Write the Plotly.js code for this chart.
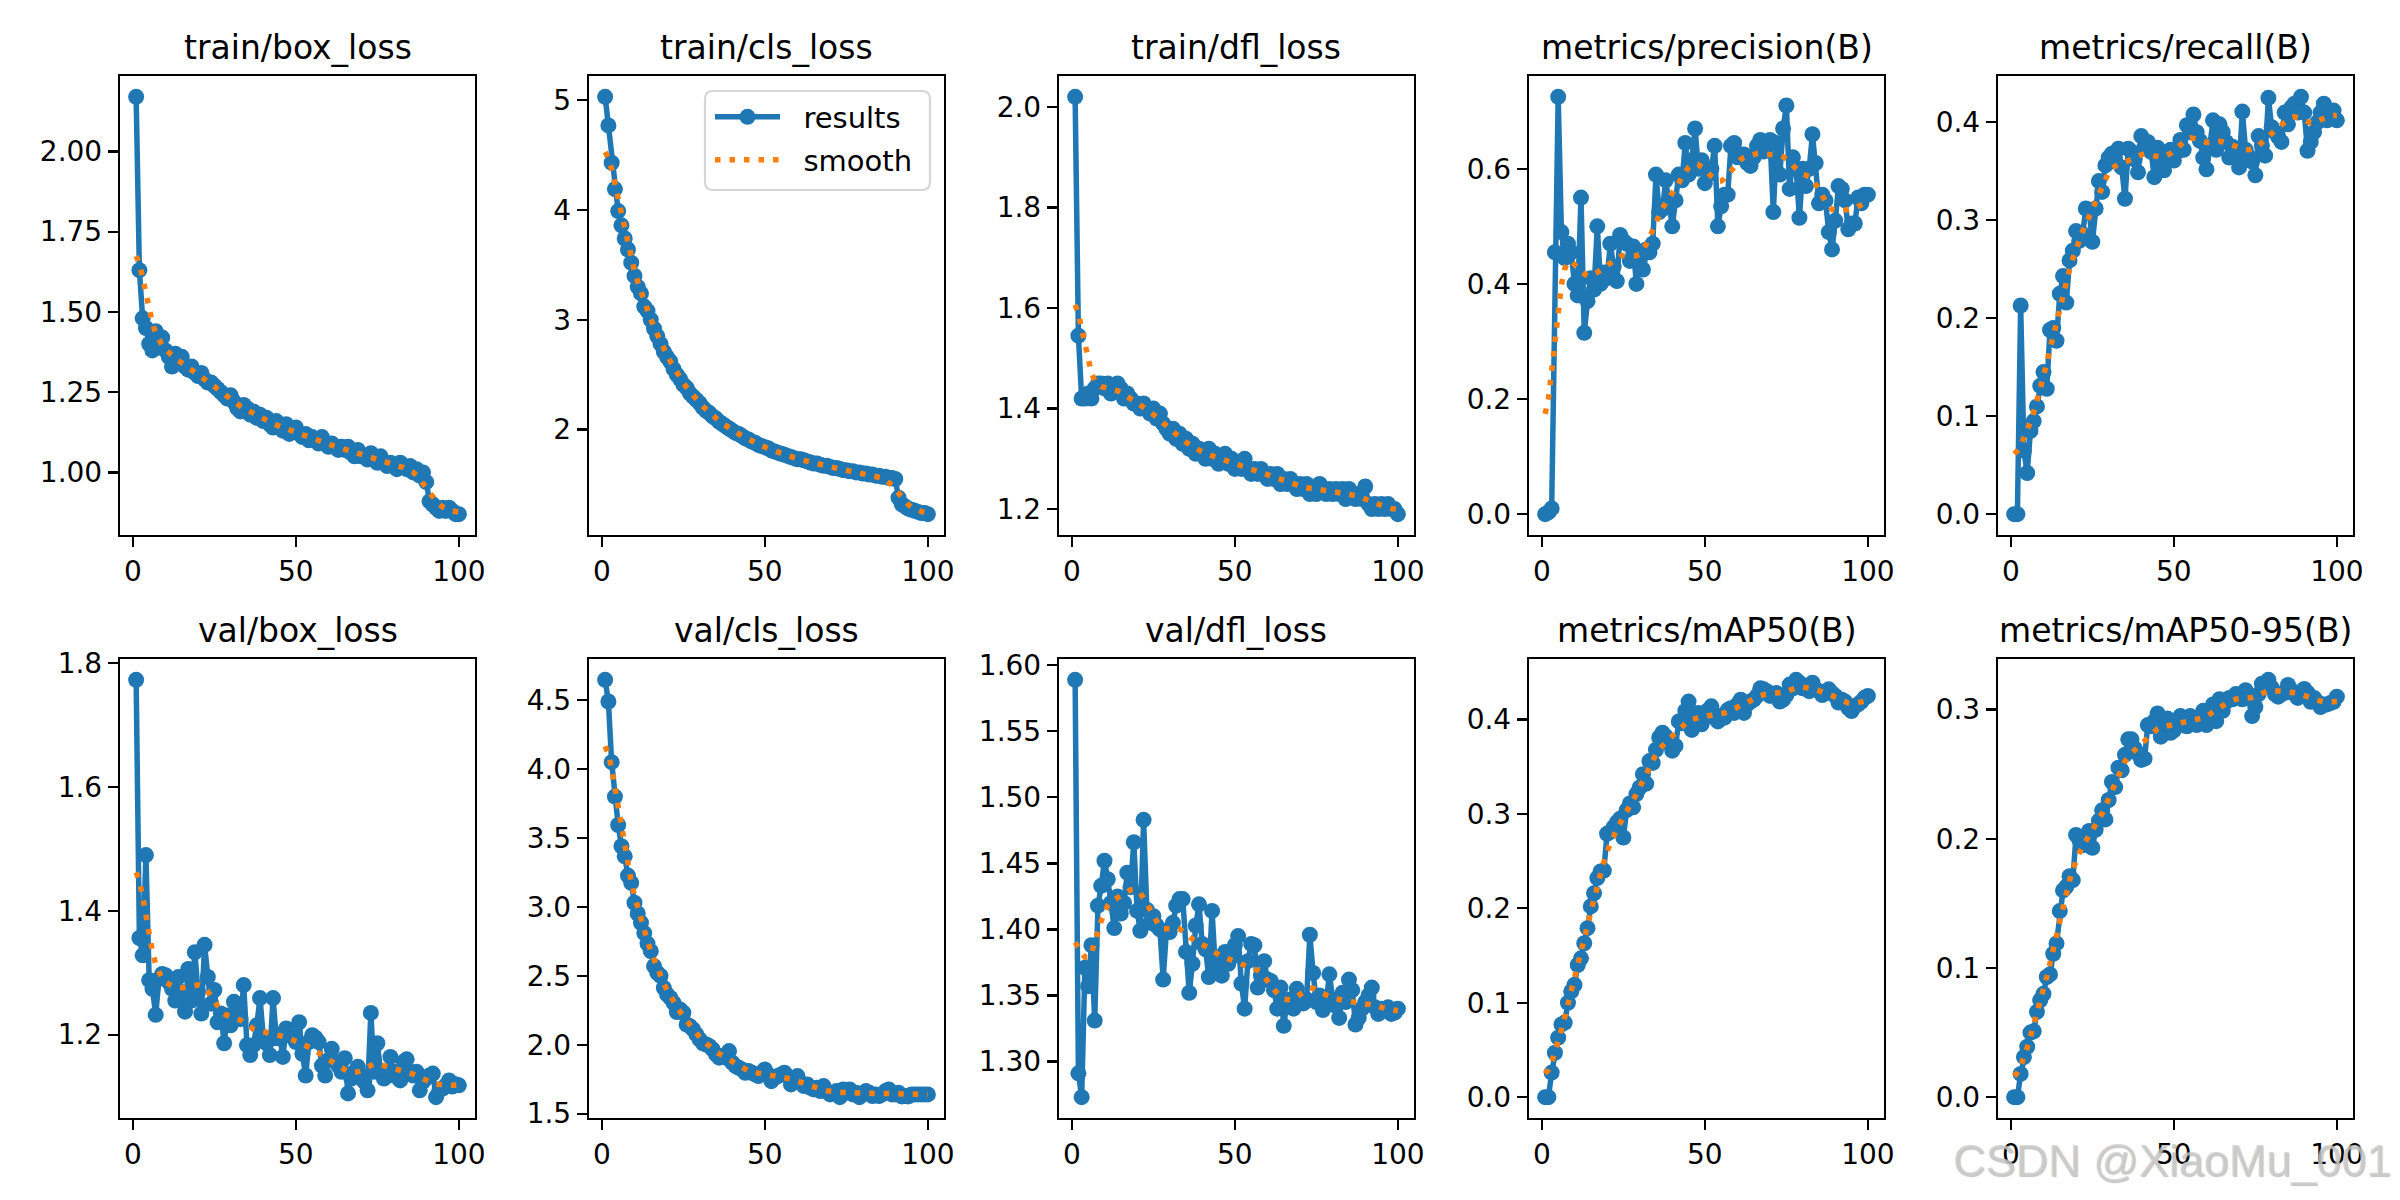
<!DOCTYPE html>
<html>
<head>
<meta charset="utf-8">
<script src="https://cdn.plot.ly/plotly-3.0.1.min.js"></script>
<style>
  html, body { margin: 0; padding: 0; background: #fff; }
  #chart { width: 2400px; height: 1200px; }
</style>
</head>
<body>
<div id="chart"></div>
<script>
// ─── Values (one per epoch, 1..100) ───

const trainBoxLoss = [
  2.17, 1.63, 1.48, 1.45, 1.40, 1.38, 1.44, 1.39, 1.42, 1.38,
  1.36, 1.33, 1.37, 1.34, 1.36, 1.33, 1.32, 1.33, 1.31, 1.30,
  1.31, 1.29, 1.28, 1.28, 1.27, 1.26, 1.25, 1.24, 1.23, 1.24,
  1.22, 1.20, 1.19, 1.21, 1.20, 1.18, 1.19, 1.17, 1.18, 1.16,
  1.17, 1.15, 1.14, 1.16, 1.14, 1.13, 1.15, 1.12, 1.13, 1.14,
  1.12, 1.11, 1.12, 1.10, 1.11, 1.10, 1.09, 1.11, 1.09, 1.08,
  1.09, 1.08, 1.07, 1.08, 1.07, 1.08, 1.06, 1.05, 1.07, 1.05,
  1.05, 1.04, 1.06, 1.04, 1.03, 1.05, 1.03, 1.02, 1.03, 1.02,
  1.01, 1.03, 1.02, 1.01, 1.02, 1.00, 1.01, 0.99, 1.00, 0.97,
  0.91, 0.90, 0.89, 0.88, 0.89, 0.88, 0.89, 0.88, 0.87, 0.87,
];

const trainClsLoss = [
  5.03, 4.77, 4.43, 4.19, 3.99, 3.86, 3.74, 3.64, 3.52, 3.40,
  3.30, 3.24, 3.12, 3.08, 3.00, 2.92, 2.85, 2.78, 2.71, 2.66,
  2.62, 2.55, 2.50, 2.46, 2.41, 2.38, 2.33, 2.30, 2.27, 2.24,
  2.20, 2.17, 2.15, 2.12, 2.10, 2.07, 2.05, 2.03, 2.01, 1.99,
  1.97, 1.96, 1.94, 1.92, 1.91, 1.89, 1.88, 1.86, 1.85, 1.84,
  1.83, 1.81, 1.80, 1.79, 1.78, 1.77, 1.76, 1.75, 1.74, 1.73,
  1.73, 1.72, 1.71, 1.70, 1.69, 1.69, 1.68, 1.67, 1.67, 1.66,
  1.65, 1.65, 1.64, 1.63, 1.63, 1.62, 1.62, 1.61, 1.61, 1.60,
  1.60, 1.59, 1.59, 1.58, 1.58, 1.57, 1.57, 1.56, 1.56, 1.55,
  1.38, 1.32, 1.30, 1.28, 1.27, 1.26, 1.25, 1.24, 1.24, 1.23,
];

const trainDflLoss = [
  2.02, 1.545, 1.42, 1.42, 1.43, 1.42, 1.44, 1.45, 1.45, 1.44,
  1.45, 1.43, 1.44, 1.45, 1.44, 1.42, 1.43, 1.42, 1.41, 1.41,
  1.40, 1.41, 1.40, 1.39, 1.40, 1.38, 1.39, 1.37, 1.36, 1.35,
  1.36, 1.34, 1.35, 1.33, 1.34, 1.32, 1.33, 1.31, 1.32, 1.31,
  1.30, 1.32, 1.30, 1.31, 1.29, 1.30, 1.31, 1.29, 1.30, 1.28,
  1.29, 1.28, 1.30, 1.28, 1.27, 1.28, 1.27, 1.28, 1.27, 1.26,
  1.27, 1.26, 1.27, 1.25, 1.26, 1.25, 1.26, 1.25, 1.24, 1.25,
  1.24, 1.25, 1.23, 1.24, 1.23, 1.25, 1.24, 1.23, 1.24, 1.23,
  1.24, 1.23, 1.24, 1.22, 1.24, 1.23, 1.22, 1.23, 1.22, 1.245,
  1.21, 1.20, 1.21, 1.20, 1.21, 1.20, 1.21, 1.20, 1.20, 1.19,
];

const precision = [
  0.000, 0.003, 0.010, 0.455, 0.725, 0.490, 0.445, 0.470, 0.455, 0.400,
  0.380, 0.550, 0.315, 0.370, 0.410, 0.390, 0.500, 0.400, 0.420, 0.410,
  0.470, 0.430, 0.405, 0.485, 0.475, 0.470, 0.440, 0.465, 0.400, 0.440,
  0.425, 0.460, 0.455, 0.470, 0.590, 0.525, 0.530, 0.580, 0.545, 0.500,
  0.545, 0.590, 0.580, 0.645, 0.590, 0.615, 0.670, 0.600, 0.615, 0.575,
  0.590, 0.600, 0.640, 0.500, 0.535, 0.555, 0.555, 0.640, 0.645, 0.620,
  0.625, 0.625, 0.610, 0.605, 0.620, 0.640, 0.650, 0.630, 0.645, 0.650,
  0.525, 0.645, 0.590, 0.670, 0.710, 0.565, 0.620, 0.600, 0.515, 0.600,
  0.570, 0.600, 0.660, 0.610, 0.540, 0.555, 0.545, 0.490, 0.460, 0.510,
  0.570, 0.565, 0.545, 0.495, 0.505, 0.505, 0.550, 0.540, 0.555, 0.555,
];

const recall = [
  0.000, 0.000, 0.213, 0.065, 0.042, 0.085, 0.095, 0.110, 0.131, 0.145,
  0.128, 0.188, 0.190, 0.177, 0.225, 0.243, 0.216, 0.259, 0.269, 0.289,
  0.279, 0.286, 0.312, 0.310, 0.278, 0.312, 0.340, 0.329, 0.356, 0.364,
  0.368, 0.360, 0.373, 0.354, 0.322, 0.373, 0.370, 0.362, 0.349, 0.386,
  0.375, 0.380, 0.370, 0.344, 0.374, 0.360, 0.351, 0.368, 0.372, 0.361,
  0.370, 0.382, 0.372, 0.397, 0.390, 0.408, 0.390, 0.381, 0.364, 0.352,
  0.375, 0.402, 0.372, 0.398, 0.390, 0.380, 0.364, 0.375, 0.370, 0.354,
  0.411, 0.372, 0.365, 0.360, 0.346, 0.386, 0.376, 0.366, 0.425, 0.395,
  0.390, 0.385, 0.380, 0.410, 0.398, 0.415, 0.419, 0.410, 0.426, 0.410,
  0.371, 0.380, 0.390, 0.400, 0.410, 0.419, 0.402, 0.410, 0.412, 0.402,
];

const valBoxLoss = [
  1.773, 1.356, 1.328, 1.490, 1.288, 1.274, 1.232, 1.290, 1.298, 1.296,
  1.285, 1.274, 1.255, 1.293, 1.269, 1.237, 1.306, 1.255, 1.333, 1.269,
  1.234, 1.345, 1.293, 1.250, 1.272, 1.220, 1.234, 1.186, 1.231, 1.215,
  1.253, 1.237, 1.225, 1.280, 1.183, 1.167, 1.183, 1.215, 1.259, 1.196,
  1.186, 1.167, 1.259, 1.194, 1.200, 1.164, 1.210, 1.200, 1.196, 1.188,
  1.220, 1.169, 1.134, 1.188, 1.199, 1.195, 1.188, 1.150, 1.134, 1.159,
  1.177, 1.156, 1.150, 1.140, 1.162, 1.105, 1.129, 1.140, 1.148, 1.134,
  1.124, 1.110, 1.235, 1.140, 1.186, 1.140, 1.129, 1.140, 1.164, 1.134,
  1.140, 1.126, 1.156, 1.160, 1.140, 1.134, 1.140, 1.110, 1.124, 1.130,
  1.134, 1.137, 1.099, 1.110, 1.113, 1.118, 1.126, 1.116, 1.120, 1.118,
];

const valClsLoss = [
  4.647, 4.490, 4.050, 3.800, 3.594, 3.440, 3.367, 3.227, 3.174, 3.030,
  2.952, 2.885, 2.810, 2.734, 2.679, 2.570, 2.522, 2.500, 2.413, 2.365,
  2.340, 2.304, 2.237, 2.256, 2.232, 2.147, 2.135, 2.111, 2.075, 2.039,
  2.010, 2.002, 1.990, 1.966, 1.930, 1.906, 1.918, 1.906, 1.954, 1.870,
  1.845, 1.833, 1.821, 1.797, 1.810, 1.797, 1.785, 1.773, 1.797, 1.821,
  1.785, 1.736, 1.760, 1.773, 1.785, 1.797, 1.773, 1.712, 1.748, 1.773,
  1.724, 1.700, 1.712, 1.688, 1.676, 1.688, 1.664, 1.700, 1.664, 1.640,
  1.652, 1.664, 1.620, 1.676, 1.652, 1.676, 1.640, 1.652, 1.620, 1.640,
  1.664, 1.652, 1.628, 1.640, 1.628, 1.640, 1.664, 1.676, 1.640, 1.640,
  1.652, 1.625, 1.628, 1.625, 1.640, 1.640, 1.640, 1.640, 1.640, 1.640,
];

const valDflLoss = [
  1.589, 1.291, 1.273, 1.371, 1.357, 1.388, 1.331, 1.418, 1.433, 1.452,
  1.438, 1.420, 1.401, 1.425, 1.412, 1.420, 1.443, 1.432, 1.466, 1.414,
  1.399, 1.483, 1.415, 1.405, 1.410, 1.403, 1.400, 1.362, 1.399, 1.398,
  1.405, 1.418, 1.423, 1.423, 1.383, 1.352, 1.374, 1.403, 1.419, 1.389,
  1.385, 1.364, 1.414, 1.371, 1.379, 1.365, 1.383, 1.374, 1.379, 1.388,
  1.395, 1.359, 1.340, 1.376, 1.389, 1.388, 1.356, 1.365, 1.376, 1.362,
  1.361, 1.354, 1.340, 1.356, 1.327, 1.346, 1.347, 1.340, 1.355, 1.346,
  1.344, 1.347, 1.396, 1.367, 1.345, 1.350, 1.339, 1.345, 1.366, 1.347,
  1.342, 1.333, 1.352, 1.345, 1.362, 1.354, 1.328, 1.333, 1.340, 1.345,
  1.350, 1.356, 1.341, 1.336, 1.340, 1.339, 1.341, 1.336, 1.337, 1.340,
];

const mAP50 = [
  0.000, 0.000, 0.026, 0.047, 0.063, 0.077, 0.079, 0.100, 0.112, 0.119,
  0.140, 0.147, 0.163, 0.179, 0.202, 0.216, 0.232, 0.239, 0.240, 0.279,
  0.281, 0.286, 0.291, 0.295, 0.275, 0.304, 0.311, 0.307, 0.321, 0.328,
  0.342, 0.332, 0.356, 0.354, 0.368, 0.381, 0.386, 0.382, 0.375, 0.367,
  0.372, 0.398, 0.396, 0.409, 0.419, 0.389, 0.395, 0.407, 0.395, 0.404,
  0.410, 0.414, 0.402, 0.398, 0.404, 0.402, 0.410, 0.412, 0.407, 0.416,
  0.421, 0.407, 0.416, 0.419, 0.421, 0.425, 0.433, 0.432, 0.430, 0.425,
  0.426, 0.428, 0.419, 0.421, 0.426, 0.437, 0.433, 0.442, 0.439, 0.433,
  0.435, 0.430, 0.439, 0.432, 0.430, 0.426, 0.428, 0.432, 0.428, 0.425,
  0.418, 0.421, 0.419, 0.412, 0.409, 0.414, 0.416, 0.419, 0.423, 0.425,
];

const mAP5095 = [
  0.000, 0.000, 0.018, 0.031, 0.039, 0.050, 0.051, 0.066, 0.075, 0.080,
  0.093, 0.095, 0.111, 0.119, 0.144, 0.160, 0.163, 0.171, 0.168, 0.203,
  0.199, 0.195, 0.199, 0.206, 0.193, 0.207, 0.214, 0.222, 0.215, 0.230,
  0.244, 0.240, 0.255, 0.253, 0.265, 0.277, 0.277, 0.270, 0.266, 0.261,
  0.262, 0.288, 0.287, 0.291, 0.297, 0.279, 0.286, 0.293, 0.282, 0.284,
  0.288, 0.295, 0.288, 0.287, 0.295, 0.290, 0.288, 0.291, 0.299, 0.288,
  0.294, 0.304, 0.291, 0.308, 0.299, 0.306, 0.309, 0.308, 0.312, 0.310,
  0.308, 0.315, 0.309, 0.295, 0.302, 0.312, 0.320, 0.319, 0.323, 0.317,
  0.312, 0.310, 0.312, 0.313, 0.319, 0.315, 0.312, 0.309, 0.313, 0.316,
  0.313, 0.306, 0.309, 0.306, 0.302, 0.304, 0.304, 0.305, 0.306, 0.310,
];

const xTicks = [0, 50, 100];

// ─── Panels: title, series, y tick spacing and format ───

const panels = [
  { title: "train/box_loss", y: trainBoxLoss, dtick: 0.25, fmt: ".2f" },
  { title: "train/cls_loss", y: trainClsLoss, dtick: 1, fmt: "d" },
  { title: "train/dfl_loss", y: trainDflLoss, dtick: 0.2, fmt: ".1f" },
  { title: "metrics/precision(B)", y: precision, dtick: 0.2, fmt: ".1f" },
  { title: "metrics/recall(B)", y: recall, dtick: 0.1, fmt: ".1f" },
  { title: "val/box_loss", y: valBoxLoss, dtick: 0.2, fmt: ".1f" },
  { title: "val/cls_loss", y: valClsLoss, dtick: 0.5, fmt: ".1f" },
  { title: "val/dfl_loss", y: valDflLoss, dtick: 0.05, fmt: ".2f" },
  { title: "metrics/mAP50(B)", y: mAP50, dtick: 0.1, fmt: ".1f" },
  { title: "metrics/mAP50-95(B)", y: mAP5095, dtick: 0.1, fmt: ".1f" },
];

// ─── Figure geometry (pixels of the 2400x1200 picture) ───

const W = 2400;
const H = 1200;
const colLeft = [120, 589, 1059, 1529, 1998];
const colWidth = 355;
const rowTop = [76, 659];
const rowHeight = 459;

const BLUE = "#1f77b4";
const ORANGE = "#ff7f0e";
const FONT = "DejaVu Sans";
const LW = 5.5;
const NBSP = "\u00a0";

// same smoothing the training script applies (gaussian, sigma 3, reflect edges)
const gaussianSmooth = (y, sigma = 3) => {
  const r = Math.round(4 * sigma);
  const w = [];
  for (let k = -r; k <= r; k++) w.push(Math.exp(-0.5 * (k / sigma) ** 2));
  const sum = w.reduce((a, b) => a + b, 0);
  const n = y.length;
  const at = (i) => {
    while (i < 0 || i >= n) i = i < 0 ? -i - 1 : 2 * n - i - 1;
    return y[i];
  };
  return y.map((_, i) => w.reduce((acc, wk, j) => acc + wk * at(i + j - r), 0) / sum);
};

const padRange = (lo, hi) => {
  const m = 0.05 * (hi - lo);
  return [lo - m, hi + m];
};

// rounded rectangle in paper coords, px in / paper out
const roundedBox = (l, t, r, b, rad) => {
  const x0 = l / W, x1 = r / W, y0 = 1 - b / H, y1 = 1 - t / H;
  const rx = rad / W, ry = rad / H;
  return `M${x0 + rx},${y1} L${x1 - rx},${y1} Q${x1},${y1} ${x1},${y1 - ry} ` +
    `L${x1},${y0 + ry} Q${x1},${y0} ${x1 - rx},${y0} L${x0 + rx},${y0} ` +
    `Q${x0},${y0} ${x0},${y0 + ry} L${x0},${y1 - ry} Q${x0},${y1} ${x0 + rx},${y1} Z`;
};

// ─── Legend (two one-entry legends inside one rounded frame) ───

const legendEntry = (yPx) => ({
  x: 710 / W,
  xanchor: "left",
  y: 1 - yPx / H,
  yanchor: "middle",
  bgcolor: "rgba(0,0,0,0)",
  borderwidth: 0,
  font: { family: FONT, size: 29, color: "#000000" },
  itemwidth: 65,
});

// ─── Build traces and axes ───

const traces = [];
const layout = {
  width: W,
  height: H,
  margin: { l: 0, r: 0, t: 0, b: 0 },
  paper_bgcolor: "#ffffff",
  plot_bgcolor: "#ffffff",
  font: { family: FONT, size: 28, color: "#000000" },
  showlegend: true,
  legend: legendEntry(117),
  legend2: legendEntry(160),
  shapes: [{
    type: "path",
    xref: "paper",
    yref: "paper",
    path: roundedBox(705, 91, 930, 190, 8),
    line: { color: "#d6d6d6", width: 2.2 },
    fillcolor: "rgba(255,255,255,0.8)",
    layer: "above",
  }],
  annotations: [],
};

panels.forEach((p, i) => {
  const row = i < 5 ? 0 : 1;
  const col = i % 5;
  const sfx = i === 0 ? "" : String(i + 1);
  const epochs = p.y.map((_, k) => k + 1);
  const smooth = gaussianSmooth(p.y, 3);

  traces.push({
    x: epochs,
    y: p.y,
    type: "scatter",
    mode: "lines+markers",
    name: NBSP + NBSP + "results",
    line: { color: BLUE, width: LW },
    marker: { color: BLUE, size: 16 },
    xaxis: "x" + sfx,
    yaxis: "y" + sfx,
    legend: "legend",
    showlegend: i === 1,
    hoverinfo: "skip",
  });
  traces.push({
    x: epochs,
    y: smooth,
    type: "scatter",
    mode: "lines",
    name: NBSP + NBSP + "smooth",
    line: { color: ORANGE, width: LW, dash: "5.5px,9px" },
    xaxis: "x" + sfx,
    yaxis: "y" + sfx,
    legend: "legend2",
    showlegend: i === 1,
    hoverinfo: "skip",
  });

  const x0 = colLeft[col] / W;
  const x1 = (colLeft[col] + colWidth) / W;
  const yTop = 1 - rowTop[row] / H;
  const yBot = 1 - (rowTop[row] + rowHeight) / H;

  const all = p.y.concat(smooth);
  const yr = padRange(Math.min(...all), Math.max(...all));
  const xr = padRange(epochs[0], epochs[epochs.length - 1]);

  const axisCommon = {
    showline: true,
    linecolor: "#000000",
    linewidth: 2.2,
    mirror: true,
    ticks: "outside",
    ticklen: 10,
    tickwidth: 2.2,
    tickcolor: "#000000",
    showgrid: false,
    zeroline: false,
    tickfont: { family: FONT, size: 28, color: "#000000" },
  };

  layout["xaxis" + sfx] = Object.assign({}, axisCommon, {
    domain: [x0, x1],
    anchor: "y" + sfx,
    range: xr,
    tickmode: "array",
    tickvals: xTicks,
    ticktext: xTicks.map(String),
  });
  layout["yaxis" + sfx] = Object.assign({}, axisCommon, {
    domain: [yBot, yTop],
    anchor: "x" + sfx,
    range: yr,
    tickmode: "linear",
    tick0: 0,
    dtick: p.dtick,
    tickformat: p.fmt,
  });

  layout.annotations.push({
    text: p.title,
    xref: "paper",
    yref: "paper",
    x: (x0 + x1) / 2,
    y: 1 - (rowTop[row] - 29) / H,
    xanchor: "center",
    yanchor: "middle",
    showarrow: false,
    font: { family: FONT, size: 33, color: "#000000" },
  });
});

// watermark stamped over the bottom-right corner
layout.annotations.push({
  text: "CSDN @XiaoMu_001",
  xref: "paper",
  yref: "paper",
  x: 2393 / W,
  y: 1 - 1160 / H,
  xanchor: "right",
  yanchor: "middle",
  showarrow: false,
  font: {
    family: "Liberation Sans",
    size: 45,
    color: "rgba(205,205,205,0.75)",
    shadow: "1px 1px 1px rgba(120,120,120,0.6)",
  },
});

Plotly.newPlot("chart", traces, layout, { displayModeBar: false, staticPlot: true });
</script>
</body>
</html>
